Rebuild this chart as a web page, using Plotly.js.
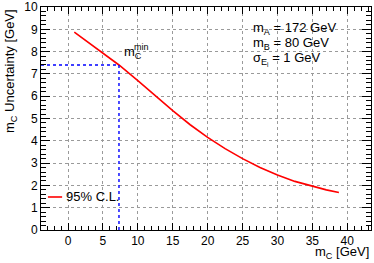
<!DOCTYPE html>
<html><head><meta charset="utf-8">
<script src="https://cdn.plot.ly/plotly-3.0.1.min.js"></script>
<style>body{margin:0;background:#fff}#plot{width:374px;height:263px}</style>
</head><body><div id="plot"></div>
<script>
// Data
const mC = [0.9, 3, 5, 7.3, 10, 12.5, 15, 17.5, 20, 22.5, 25, 27.5, 30, 32.5, 35, 37, 38.8];
const uncertainty = [8.87, 8.40, 7.93, 7.40, 6.70, 6.02, 5.35, 4.72, 4.15, 3.65, 3.20, 2.80, 2.47, 2.18, 1.95, 1.80, 1.68];
const mCmin = 7.3;
const uncAtMin = 7.40;
const xRange = [-3.87, 43.4];
const yRange = [0, 10];
const legendLabel = "95% C.L.";
const infoLines = ["m<sub>A</sub> = 172 GeV", "m<sub>B</sub> = 80 GeV", "σ<sub>E<sub>i</sub></sub> = 1 GeV"];

const font = "Liberation Sans, Arial, sans-serif";

const traces = [
  {x: mC, y: uncertainty, mode: "lines", line: {color: "#ff0000", width: 1.6}, showlegend: false, hoverinfo: "skip"},
  {x: [xRange[0], mCmin], y: [uncAtMin, uncAtMin], mode: "lines", line: {color: "#0000ff", width: 1.4, dash: "dot"}, showlegend: false},
  {x: [mCmin, mCmin], y: [yRange[0], uncAtMin], mode: "lines", line: {color: "#0000ff", width: 1.4, dash: "dot"}, showlegend: false}
];

const axisCommon = {
  showline: true, linecolor: "#000", linewidth: 1, mirror: "allticks",
  ticks: "inside", tickcolor: "#000", tickwidth: 1,
  showgrid: true, gridcolor: "#9a9a9a", griddash: "dot", gridwidth: 1,
  zeroline: false, tickfont: {family: font, size: 12, color: "#000"}
};

const layout = {
  width: 374, height: 263,
  margin: {l: 41, r: 3, t: 7, b: 33},
  paper_bgcolor: "#fff", plot_bgcolor: "#fff",
  font: {family: font, color: "#000"},
  xaxis: Object.assign({}, axisCommon, {range: xRange, dtick: 5, tick0: 0, ticklen: 7,
    minor: {dtick: 1, ticklen: 4, ticks: "inside", tickcolor: "#000", showgrid: false}}),
  yaxis: Object.assign({}, axisCommon, {range: yRange, dtick: 1, tick0: 0, ticklen: 9,
    minor: {dtick: 0.2, ticklen: 5, ticks: "inside", tickcolor: "#000", showgrid: false}}),
  shapes: [
    {type: "rect", xref: "paper", yref: "paper", x0: 0.624, x1: 0.897, y0: 0.726, y1: 0.964,
     fillcolor: "#fff", line: {width: 0}, layer: "below"},
    {type: "rect", xref: "paper", yref: "paper", x0: 0.004, x1: 0.23, y0: 0.108, y1: 0.193,
     fillcolor: "#fff", line: {width: 0}, layer: "below"},
    {type: "line", xref: "paper", yref: "paper", x0: 0.021, x1: 0.064, y0: 0.148, y1: 0.148,
     line: {color: "#ff0000", width: 1.6}}
  ],
  annotations: [
    {xref: "paper", yref: "paper", x: 0.07, y: 0.148, xanchor: "left", yanchor: "middle",
     text: legendLabel, showarrow: false, font: {size: 13}},
    {xref: "paper", yref: "paper", x: 0.636, y: 0.905, xanchor: "left", yanchor: "middle",
     text: infoLines[0], showarrow: false, font: {size: 13}},
    {xref: "paper", yref: "paper", x: 0.636, y: 0.836, xanchor: "left", yanchor: "middle",
     text: infoLines[1], showarrow: false, font: {size: 13}},
    {xref: "paper", yref: "paper", x: 0.636, y: 0.765, xanchor: "left", yanchor: "middle",
     text: infoLines[2], showarrow: false, font: {size: 13}},
    {xref: "x", yref: "y", x: mCmin + 0.5, y: uncAtMin + 0.1, xanchor: "left", yanchor: "bottom",
     text: "m<sub>C</sub>", showarrow: false, font: {size: 13}},
    {xref: "x", yref: "y", x: mCmin + 1.85, y: uncAtMin + 0.5, xanchor: "left", yanchor: "bottom",
     text: "min", showarrow: false, font: {size: 9}},
    {xref: "paper", yref: "paper", x: -0.094, y: 1.0, xanchor: "center", yanchor: "top", textangle: -90,
     text: "m<sub>C</sub> Uncertainty [GeV]", showarrow: false, font: {size: 13}},
    {xref: "paper", yref: "paper", x: 1.0, y: -0.1, xanchor: "right", yanchor: "middle",
     text: "m<sub>C</sub> [GeV]", showarrow: false, font: {size: 13}}
  ]
};

Plotly.newPlot("plot", traces, layout, {displayModeBar: false, staticPlot: true});
</script></body></html>
